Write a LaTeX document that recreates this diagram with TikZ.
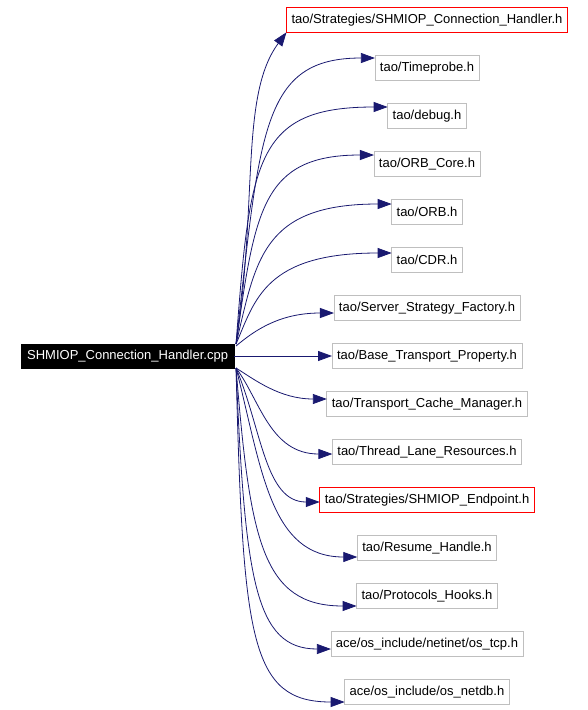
\documentclass[tikz,border=0pt]{standalone}
\usepackage{fontspec}
\setmainfont{Liberation Sans}
\usepackage{xcolor}
\usetikzlibrary{arrows.meta,positioning}
\definecolor{edgeblue}{HTML}{191970}
\definecolor{boxgray}{HTML}{BFBFBF}
\tikzset{
	filebox/.style={draw=boxgray, line width=0.8pt, inner xsep=5pt, inner ysep=0pt, outer sep=0pt,
		minimum height=24.5pt, font=\fontsize{13}{15}\selectfont},
	redbox/.style={filebox, draw=red},
	rootbox/.style={filebox, draw=black, fill=black, text=white, minimum height=24pt, inner xsep=6pt},
	edge/.style={-{Triangle[length=14pt, width=10pt]}, draw=edgeblue, line width=0.8pt}
}

\begin{document}
\begin{tikzpicture}[x=1pt, y=-1pt, node distance=23.5pt]
	\useasboundingbox (0,0) rectangle (587,710);
	
	%% ── Included headers (one column) ───────────────────────────────
	\node[redbox] (t1) at (427,20) {tao/Strategies/SHMIOP\_Connection\_Handler.h};
	\node[filebox, below=of t1] (t2) {tao/Timeprobe.h};
	\node[filebox, below=of t2] (t3) {tao/debug.h};
	\node[filebox, below=of t3] (t4) {tao/ORB\_Core.h};
	\node[filebox, below=of t4] (t5) {tao/ORB.h};
	\node[filebox, below=of t5] (t6) {tao/CDR.h};
	\node[filebox, below=of t6] (t7) {tao/Server\_Strategy\_Factory.h};
	\node[filebox, below=of t7] (t8) {tao/Base\_Transport\_Property.h};
	\node[filebox, below=of t8] (t9) {tao/Transport\_Cache\_Manager.h};
	\node[filebox, below=of t9] (t10) {tao/Thread\_Lane\_Resources.h};
	\node[redbox, below=of t10] (t11) {tao/Strategies/SHMIOP\_Endpoint.h};
	\node[filebox, below=of t11] (t12) {tao/Resume\_Handle.h};
	\node[filebox, below=of t12] (t13) {tao/Protocols\_Hooks.h};
	\node[filebox, below=of t13] (t14) {ace/os\_include/netinet/os\_tcp.h};
	\node[filebox, below=of t14] (t15) {ace/os\_include/os\_netdb.h};
	
	%% ── Source file ─────────────────────────────────────────────────
	\node[rootbox, left=98pt of t8] (src) {SHMIOP\_Connection\_Handler.cpp};
	
	%% ── Upward edges ────────────────────────────────────────────────
	\draw[edge] ([xshift=2pt]src.north east) .. controls (258,200) and (240,95) .. (t1.south west);
	\draw[edge] ([xshift=2pt]src.north east) .. controls (260,130) and (262,58) .. ([yshift=10pt]t2.west);
	\draw[edge] ([xshift=2pt]src.north east) .. controls (250,160) and (255,107) .. ([yshift=9pt]t3.west);
	\draw[edge] ([xshift=2pt]src.north east) .. controls (255,210) and (262,155) .. ([yshift=9pt]t4.west);
	\draw[edge] ([xshift=2pt]src.north east) .. controls (256,260) and (262,204) .. ([yshift=8pt]t5.west);
	\draw[edge] ([xshift=2pt]src.north east) .. controls (255,300) and (265,253) .. ([yshift=7pt]t6.west);
	\draw[edge] ([xshift=2pt,yshift=-2pt]src.north east) .. controls (255,330) and (280,313) .. ([yshift=-5pt]t7.west);
	
	%% ── Straight edge ───────────────────────────────────────────────
	\draw[edge] (src.east) -- (t8.west);
	
	%% ── Downward edges ──────────────────────────────────────────────
	\draw[edge] ([xshift=2pt]src.south east) .. controls (255,380) and (280,399) .. ([yshift=5pt]t9.west);
	\draw[edge] ([xshift=2pt]src.south east) .. controls (260,400) and (270,454) .. ([yshift=-2pt]t10.west);
	\draw[edge] ([xshift=2pt]src.south east) .. controls (262,430) and (265,502) .. ([yshift=-2pt]t11.west);
	\draw[edge] ([xshift=2pt]src.south east) .. controls (262,470) and (270,557) .. ([yshift=-9pt]t12.west);
	\draw[edge] ([xshift=2pt]src.south east) .. controls (250,540) and (262,606) .. ([yshift=-10pt]t13.west);
	\draw[edge] ([xshift=2pt]src.south east) .. controls (245,580) and (255,649) .. ([yshift=-5pt]t14.west);
	\draw[edge] ([xshift=2pt]src.south east) .. controls (243,640) and (250,702) .. ([yshift=-10pt]t15.west);
\end{tikzpicture}
\end{document}
